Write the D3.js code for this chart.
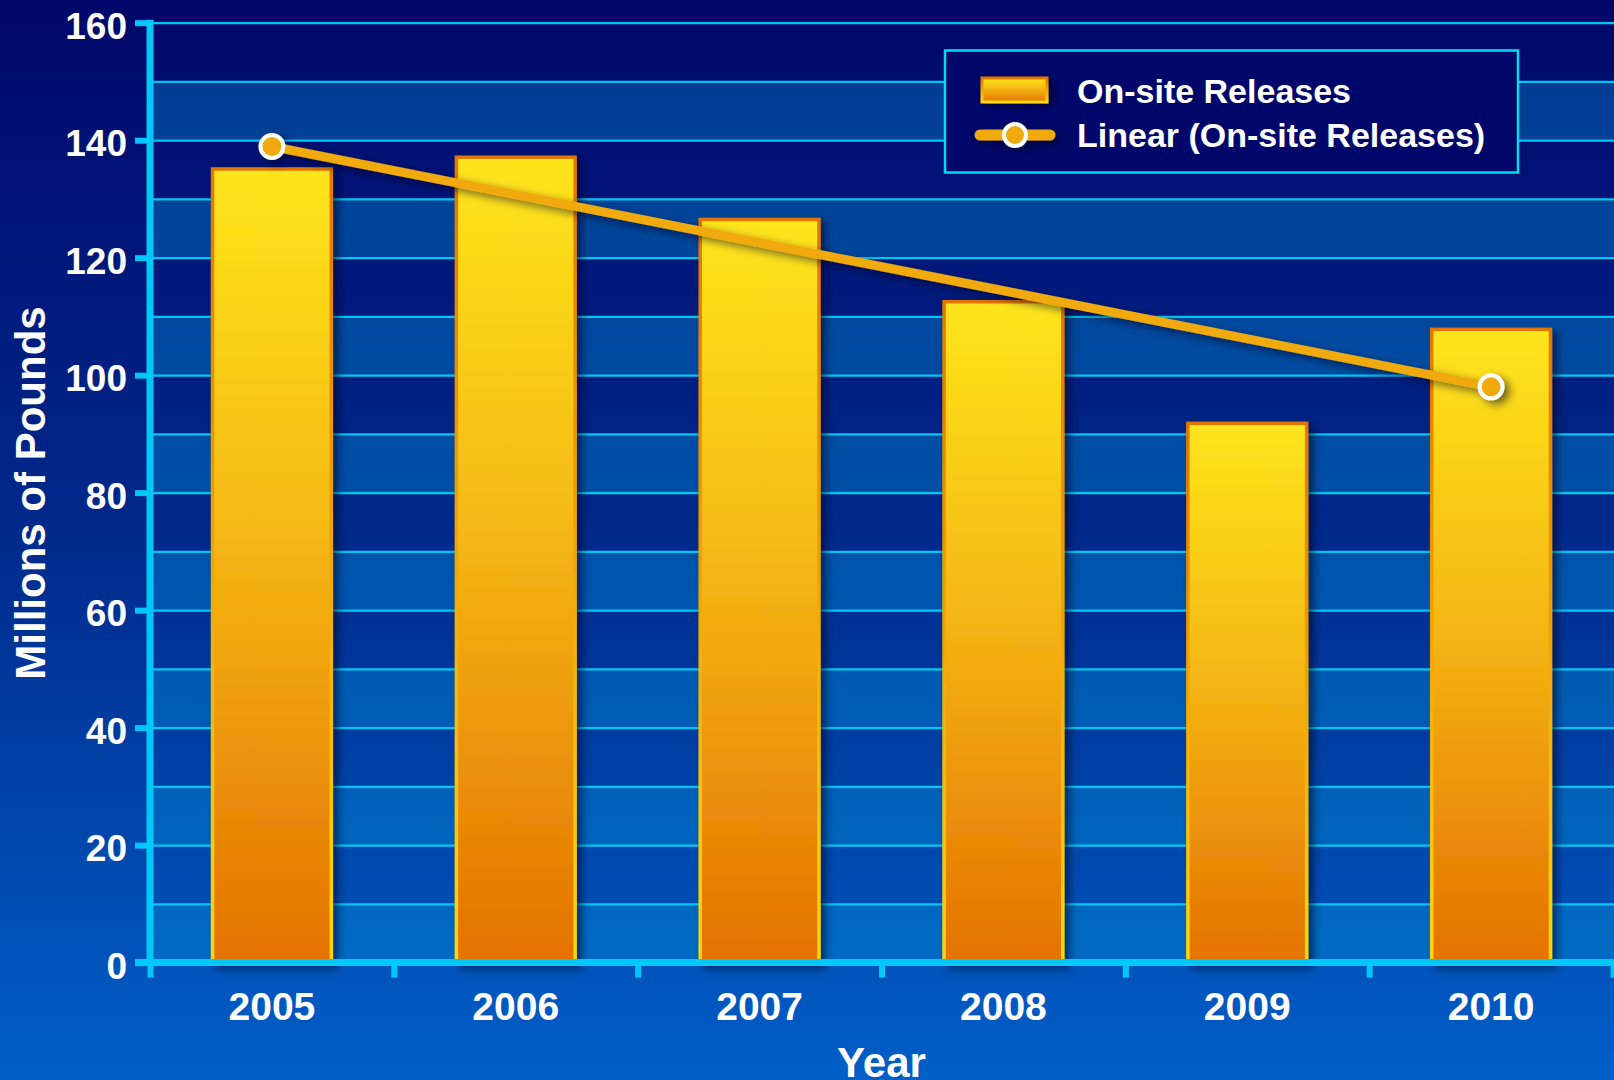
<!DOCTYPE html>
<html>
<head>
<meta charset="utf-8">
<script src="https://cdn.jsdelivr.net/npm/d3@7"></script>
<style>
  html, body { margin: 0; padding: 0; overflow: hidden; }
  svg text { font-family: "Liberation Sans", Arial, sans-serif; font-weight: bold; fill: #fff; }
</style>
</head>
<body>
<div id="chart"></div>
<script>
// data
const years = ['2005', '2006', '2007', '2008', '2009', '2010']
const releases = [135.1, 137.1, 126.5, 112.5, 91.8, 107.8]
const yTicks = [0, 20, 40, 60, 80, 100, 120, 140, 160]
const bandStarts = [0, 20, 40, 60, 80, 100, 120, 140]
const legendLabels = ['On-site Releases', 'Linear (On-site Releases)']

const W = 1614, H = 1080
const plotLeft = 150, plotRight = 1613, plotTop = 22.7, plotBottom = 962.6

const svg = d3.select('#chart').append('svg')
  .attr('width', W)
  .attr('height', H)

const defs = svg.append('defs')

function grad(id, stops, x2, y2, user) {
  const g = defs.append('linearGradient').attr('id', id)
    .attr('x1', 0).attr('y1', 0).attr('x2', x2).attr('y2', y2)
  if (user) g.attr('gradientUnits', 'userSpaceOnUse')
  stops.forEach(s => g.append('stop').attr('offset', s[0]).attr('stop-color', s[1]))
}
grad('bg', [[0, '#00076a'], [0.5, '#002a8c'], [1, '#005fc8']], 0, H, true)
grad('band', [[0, '#003a8e'], [0.5, '#0052aa'], [1, '#0072cc']], 0, H, true)
grad('barFill', [[0, '#fee51b'], [0.45, '#f5b914'], [1, '#e47200']], 0, 1)
grad('barEdge', [[0, '#e37600'], [1, '#fcd70c']], 0, 1)

const shadow = defs.append('filter').attr('id', 'shadow')
  .attr('x', '-20%').attr('y', '-20%').attr('width', '150%').attr('height', '150%')
shadow.append('feDropShadow').attr('dx', 5).attr('dy', 4)
  .attr('stdDeviation', 4).attr('flood-color', '#000020').attr('flood-opacity', 0.55)

// background
svg.append('rect').attr('width', W).attr('height', H).attr('fill', 'url(#bg)')

const x = d3.scaleBand().domain(years).range([plotLeft, plotRight])
  .paddingInner(0.513).paddingOuter(0.2565)
const xEdge = d3.scaleLinear().domain([0, years.length]).range([plotLeft, plotRight])
const y = d3.scaleLinear().domain([0, 160]).range([plotBottom, plotTop])

// alternating bands
svg.append('g').selectAll('rect')
  .data(bandStarts)
  .enter().append('rect')
  .attr('x', plotLeft)
  .attr('width', W - plotLeft)
  .attr('y', d => y(d + 10))
  .attr('height', d => y(d) - y(d + 10))
  .attr('fill', 'url(#band)')

// gridlines every 10
const grid = svg.append('g')
  .attr('transform', `translate(${plotLeft},0)`)
  .call(d3.axisLeft(y).tickValues(d3.range(10, 161, 10)).tickSize(-(W - plotLeft)).tickFormat(''))
grid.select('.domain').remove()
grid.selectAll('line').attr('stroke', '#00c8f2').attr('stroke-width', 2.2)

// bars
svg.append('g').selectAll('rect')
  .data(releases)
  .enter().append('rect')
  .attr('x', (d, i) => x(years[i]))
  .attr('width', x.bandwidth())
  .attr('y', d => y(d))
  .attr('height', d => y(0) - y(d))
  .attr('fill', 'url(#barFill)')
  .attr('stroke', 'url(#barEdge)')
  .attr('stroke-width', 3.5)
  .attr('filter', 'url(#shadow)')

// linear trend (least squares on the bars)
const idx = releases.map((d, i) => i)
const mx = d3.mean(idx), my = d3.mean(releases)
const slope = d3.sum(idx, i => (i - mx) * (releases[i] - my)) / d3.sum(idx, i => (i - mx) * (i - mx))
const icpt = my - slope * mx
const trend = [0, years.length - 1].map(i => ({ year: years[i], value: icpt + slope * i }))
const cx = d => x(d.year) + x.bandwidth() / 2

const trendG = svg.append('g').attr('filter', 'url(#shadow)')
trendG.append('path')
  .datum(trend)
  .attr('d', d3.line().x(cx).y(d => y(d.value)))
  .attr('fill', 'none')
  .attr('stroke', '#f0aa0b')
  .attr('stroke-width', 9)
trendG.selectAll('circle')
  .data(trend)
  .enter().append('circle')
  .attr('cx', cx)
  .attr('cy', d => y(d.value))
  .attr('r', 11.5)
  .attr('fill', '#f0aa0b')
  .attr('stroke', '#fff')
  .attr('stroke-width', 4)

// y axis
const yAxis = svg.append('g')
  .attr('transform', `translate(${plotLeft},0)`)
  .call(d3.axisLeft(y).tickValues(yTicks).tickSize(15).tickPadding(10))
yAxis.select('.domain').attr('stroke', '#00c8f8').attr('stroke-width', 7)
  .attr('d', `M0,${plotTop - 3}V${plotBottom}`)
yAxis.selectAll('.tick line').attr('stroke', '#00c8f8').attr('stroke-width', 6)
yAxis.selectAll('.tick text')
  .attr('font-size', 37)
  .attr('font-family', '"Liberation Sans", Arial, sans-serif')
  .attr('font-weight', 'bold')
  .attr('fill', '#fff')
  .attr('dy', '0.42em')
  .attr('x', -23)

// x axis
const xAxis = svg.append('g')
  .attr('transform', `translate(0,${plotBottom})`)
  .call(d3.axisBottom(xEdge).tickValues(d3.range(0, years.length + 1)).tickSize(15).tickFormat(''))
xAxis.select('.domain').attr('stroke', '#00c8f8').attr('stroke-width', 7)
  .attr('d', `M${plotLeft - 15},0H${W}`)
xAxis.selectAll('.tick line').attr('stroke', '#00c8f8').attr('stroke-width', 6)

svg.append('g').selectAll('text')
  .data(years)
  .enter().append('text')
  .attr('x', d => x(d) + x.bandwidth() / 2)
  .attr('y', 1020)
  .attr('text-anchor', 'middle')
  .attr('font-size', 39)
  .text(d => d)

// axis titles
svg.append('text')
  .attr('transform', 'translate(45,493) rotate(-90)')
  .attr('text-anchor', 'middle')
  .attr('font-size', 42)
  .text('Millions of Pounds')

svg.append('text')
  .attr('x', (plotLeft + plotRight) / 2)
  .attr('y', 1077)
  .attr('text-anchor', 'middle')
  .attr('font-size', 42)
  .text('Year')

// legend
const legend = svg.append('g')
legend.append('rect')
  .attr('x', 945).attr('y', 50.5)
  .attr('width', 573).attr('height', 122)
  .attr('fill', '#00076a')
  .attr('stroke', '#00dcef')
  .attr('stroke-width', 2.5)
legend.append('rect')
  .attr('x', 982).attr('y', 78)
  .attr('width', 65).attr('height', 24)
  .attr('fill', 'url(#barFill)')
  .attr('stroke', 'url(#barEdge)')
  .attr('stroke-width', 3)
  .attr('filter', 'url(#shadow)')
const legLine = legend.append('g').attr('filter', 'url(#shadow)')
legLine.append('line')
  .attr('x1', 980).attr('x2', 1050).attr('y1', 135).attr('y2', 135)
  .attr('stroke', '#f0aa0b').attr('stroke-width', 11).attr('stroke-linecap', 'round')
legLine.append('circle')
  .attr('cx', 1015).attr('cy', 135).attr('r', 11)
  .attr('fill', '#f0aa0b').attr('stroke', '#fff').attr('stroke-width', 4)
legend.selectAll('text.leg')
  .data(legendLabels)
  .enter().append('text')
  .attr('class', 'leg')
  .attr('x', 1077)
  .attr('y', (d, i) => 103 + i * 44)
  .attr('font-size', 34)
  .text(d => d)
</script>
</body>
</html>
